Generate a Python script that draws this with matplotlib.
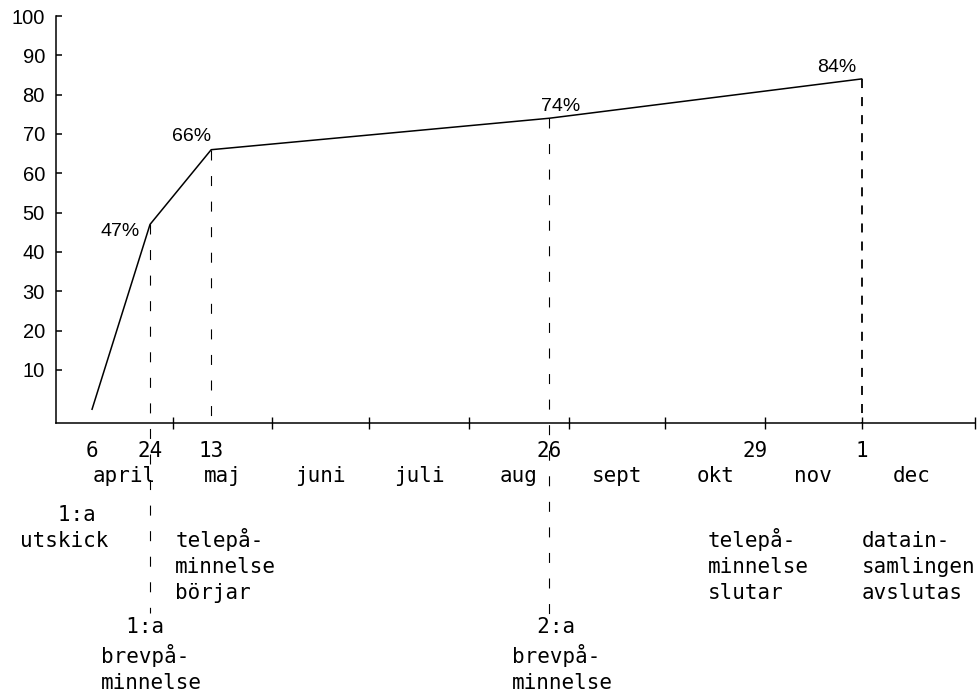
import matplotlib
matplotlib.use("Agg")
import matplotlib.pyplot as plt
import numpy as np

# months shown on the time axis (april - dec) and their lengths in days
months = ["april", "maj", "juni", "juli", "aug", "sept", "okt", "nov", "dec"]
month_len = [30, 31, 30, 31, 31, 30, 31, 30, 31]

# cumulative response rate at each key date (month number, day)
resp_dates = [(4, 6), (4, 24), (5, 13), (8, 26), (12, 1)]
resp_pct = [0, 47, 66, 74, 84]

# day numbers written under the axis
day_marks = [(4, 6), (4, 24), (5, 13), (8, 26), (10, 29), (12, 1)]

# events: (date, text)
events = [
    ((4, 6), "   1:a\nutskick"),
    ((4, 24), "  1:a\nbrevpå-\nminnelse"),
    ((5, 13), "telepå-\nminnelse\nbörjar"),
    ((8, 26), "  2:a\nbrevpå-\nminnelse"),
    ((10, 29), "telepå-\nminnelse\nslutar"),
    ((12, 1), "datain-\nsamlingen\navslutas"),
]

yticks = [10, 20, 30, 40, 50, 60, 70, 80, 90, 100]

month_start = np.concatenate([[0], np.cumsum(month_len)])


def day_of(md):
    m, d = md
    return month_start[m - 4] + d - 1


MONO = "DejaVu Sans Mono"
SANS = ["Liberation Sans", "DejaVu Sans"]
PX = 0.72  # points per pixel at dpi 100

fig = plt.figure(figsize=(9.79, 6.93), dpi=100)
ax = fig.add_axes([56 / 979, 1 - 423 / 693, 919 / 979, 407 / 693])

ax.set_xlim(-6.2, 279.2)
ax.set_ylim(-3.5, 100)
px_per_unit = 407 / 103.5

for s in ["top", "right"]:
    ax.spines[s].set_visible(False)
for s in ["left", "bottom"]:
    ax.spines[s].set_linewidth(1.1)

ax.set_yticks(yticks)
ax.set_yticklabels([str(v) for v in yticks], family=SANS, fontsize=14.5)
ax.tick_params(axis="y", direction="in", length=4, width=1.1, pad=8)

xt = list(month_start[1:9]) + [ax.get_xlim()[1]]
ax.set_xticks(xt)
ax.set_xticklabels([])
ax.tick_params(axis="x", direction="inout", length=8, width=1.0)

# response curve
x = [day_of(d) for d in resp_dates]
ax.plot(x, resp_pct, color="black", lw=1.1, clip_on=False)

# percentage labels
pct_off = [None, (-10, -12, "right"), (0, 9, "right"), (-8, 7, "left"), (-5, 7, "right")]
for xi, v, off in zip(x, resp_pct, pct_off):
    if off is None:
        continue
    dx, dy, ha = off
    ax.annotate(f"{v}%", (xi, v), xytext=(dx * PX, dy * PX), textcoords="offset points",
                ha=ha, va="baseline", family=SANS, fontsize=14)

# dashed drop lines (depth below axis in pixels)
drops = [(1, 190), (2, 0), (3, 197)]
for i, depth in drops:
    ax.plot([x[i], x[i]], [resp_pct[i], -3.5 - depth / px_per_unit], color="black",
            lw=0.8, dashes=(9, 14), clip_on=False)
ax.plot([x[4], x[4]], [resp_pct[4], -3.5], color="black", lw=1.3,
        dashes=(5, 5), clip_on=False)

xa = ax.get_xaxis_transform()


def below(s, xd, dx, dy, ha="center", **kw):
    # dy: pixels from axis down to the baseline of the last line
    ax.annotate(s, (xd, 0), xycoords=xa, xytext=(dx * PX, -dy * PX),
                textcoords="offset points", ha=ha, va="baseline",
                family=MONO, fontsize=15, annotation_clip=False, **kw)


# day numbers
for md in day_marks:
    below(str(md[1]), day_of(md), 0, 34)

# month names at month midpoints
for i, m in enumerate(months):
    below(m, (month_start[i] + month_start[i + 1]) / 2, 0, 59)

# event texts
ev_off = [(-72, 124), (-49, 266), (-36, 176), (-37, 266), (-48, 176), (0, 176)]
for (md, s), (dx, dy) in zip(events, ev_off):
    below(s, day_of(md), dx, dy, ha="left", linespacing=1.38)

fig.savefig("out.png", dpi=100)
